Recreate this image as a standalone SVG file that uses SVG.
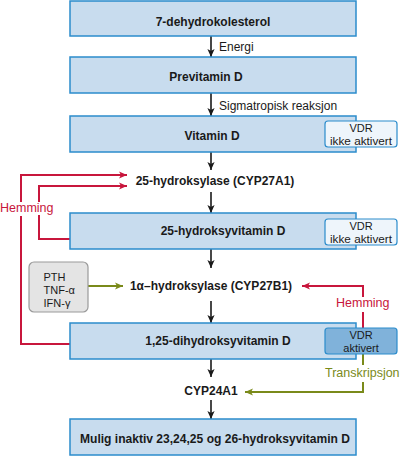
<svg xmlns="http://www.w3.org/2000/svg" width="400" height="456" viewBox="0 0 400 456">
<style>
text{font-family:"Liberation Sans",Arial,Helvetica,sans-serif;fill:#1a1a1a}
.b{font-size:12px;font-weight:bold;text-anchor:middle}
.r{font-size:12px}
.v{font-size:11px;text-anchor:middle}
.p{font-size:11px}
.box{fill:#c8dcee;stroke:#2b8ccc;stroke-width:1.5}
.vdr{fill:#eef5fb;stroke:#2b8ccc;stroke-width:1.2}
.vdra{fill:#80b2da;stroke:#2b8ccc;stroke-width:1.2}
.gray{fill:#e4e4e4;stroke:#9a9a9a;stroke-width:1.2}
.k{fill:none;stroke:#1a1a1a;stroke-width:1.6}
.red{fill:none;stroke:#c8163c;stroke-width:2}
.grn{fill:none;stroke:#7a8a1a;stroke-width:2}
.tr{fill:#c8163c;font-size:12.5px}
.tg{fill:#7a8a1a;font-size:12.5px}
</style>
<defs>
<marker id="ak" viewBox="0 0 10 10" refX="10" refY="5" markerWidth="8" markerHeight="9" markerUnits="userSpaceOnUse" orient="auto"><path d="M0,0.5 L10,5 L0,9.5 L2.5,5 z" fill="#1a1a1a"/></marker>
<marker id="ar" viewBox="0 0 10 10" refX="10" refY="5" markerWidth="9" markerHeight="8" markerUnits="userSpaceOnUse" orient="auto"><path d="M0,0.5 L10,5 L0,9.5 L2.5,5 z" fill="#c8163c"/></marker>
<marker id="ag" viewBox="0 0 10 10" refX="10" refY="5" markerWidth="9" markerHeight="8" markerUnits="userSpaceOnUse" orient="auto"><path d="M0,0.5 L10,5 L0,9.5 L2.5,5 z" fill="#7a8a1a"/></marker>
</defs>

<g id="connectors">
<line class="k" x1="211" y1="36" x2="211" y2="57" marker-end="url(#ak)"/>
<line class="k" x1="211" y1="93" x2="211" y2="116" marker-end="url(#ak)"/>
<line class="k" x1="211" y1="152" x2="211" y2="170" marker-end="url(#ak)"/>
<line class="k" x1="211" y1="192" x2="211" y2="213" marker-end="url(#ak)"/>
<line class="k" x1="211" y1="249" x2="211" y2="268" marker-end="url(#ak)"/>
<line class="k" x1="211" y1="301" x2="211" y2="323" marker-end="url(#ak)"/>
<line class="k" x1="211" y1="359" x2="211" y2="377" marker-end="url(#ak)"/>
<line class="k" x1="211" y1="400" x2="211" y2="419" marker-end="url(#ak)"/>
<path class="red" d="M70,344 H21 V216"/>
<path class="red" d="M21,202 V175 H127" marker-end="url(#ar)"/>
<path class="red" d="M70,239 H39 V215"/>
<path class="red" d="M39,202 V186 H127" marker-end="url(#ar)"/>
<path class="red" d="M363,328 V312"/>
<path class="red" d="M363,297 V286 H302" marker-end="url(#ar)"/>
<path class="grn" d="M88,286 H123" marker-end="url(#ag)"/>
<path class="grn" d="M363,354 V365"/>
<path class="grn" d="M363,382 V392 H245" marker-end="url(#ag)"/>
<text class="r" x="219" y="51">Energi</text>
<text class="r" x="219" y="110">Sigmatropisk reaksjon</text>
<text class="tr" x="0" y="212">Hemming</text>
<text class="tr" x="336" y="307">Hemming</text>
<text class="tg" x="325" y="377">Transkripsjon</text>
</g>

<g id="n1"><rect class="box" x="70" y="1" width="286" height="35"/><text class="b" x="213" y="26">7-dehydrokolesterol</text></g>
<g id="n2"><rect class="box" x="70" y="57" width="286" height="36"/><text class="b" x="206" y="81">Previtamin D</text></g>
<g id="n3"><rect class="box" x="70" y="116" width="286" height="36"/><text class="b" x="212" y="140">Vitamin D</text>
<rect class="vdr" x="325" y="121" width="72" height="26" rx="3"/><text class="v" x="361" y="132">VDR</text><text class="v" x="361" y="145" textLength="62" lengthAdjust="spacingAndGlyphs">ikke aktivert</text></g>
<g id="n4"><text class="b" x="215" y="185">25-hydroksylase (CYP27A1)</text></g>
<g id="n5"><rect class="box" x="70" y="213" width="286" height="36"/><text class="b" x="223" y="235">25-hydroksyvitamin D</text>
<rect class="vdr" x="325" y="219" width="72" height="26" rx="3"/><text class="v" x="361" y="230">VDR</text><text class="v" x="361" y="243" textLength="62" lengthAdjust="spacingAndGlyphs">ikke aktivert</text></g>
<g id="n6"><rect class="gray" x="29" y="262" width="59" height="50" rx="5"/>
<text class="p" x="43.5" y="281">PTH</text><text class="p" x="43.5" y="294">TNF-α</text><text class="p" x="43.5" y="307">IFN-γ</text></g>
<g id="n7"><text class="b" x="211" y="290">1α–hydroksylase (CYP27B1)</text></g>
<g id="n8"><rect class="box" x="70" y="323" width="286" height="36"/><text class="b" x="218" y="345">1,25-dihydroksyvitamin D</text>
<rect class="vdra" x="325" y="328" width="72" height="26" rx="3"/><text class="v" x="361" y="339">VDR</text><text class="v" x="361" y="352">aktivert</text></g>
<g id="n9"><text class="b" x="211" y="395">CYP24A1</text></g>
<g id="n10"><rect class="box" x="70" y="419" width="286" height="36"/><text class="b" x="215" y="443" textLength="270" lengthAdjust="spacingAndGlyphs">Mulig inaktiv 23,24,25 og 26-hydroksyvitamin D</text></g>
</svg>
